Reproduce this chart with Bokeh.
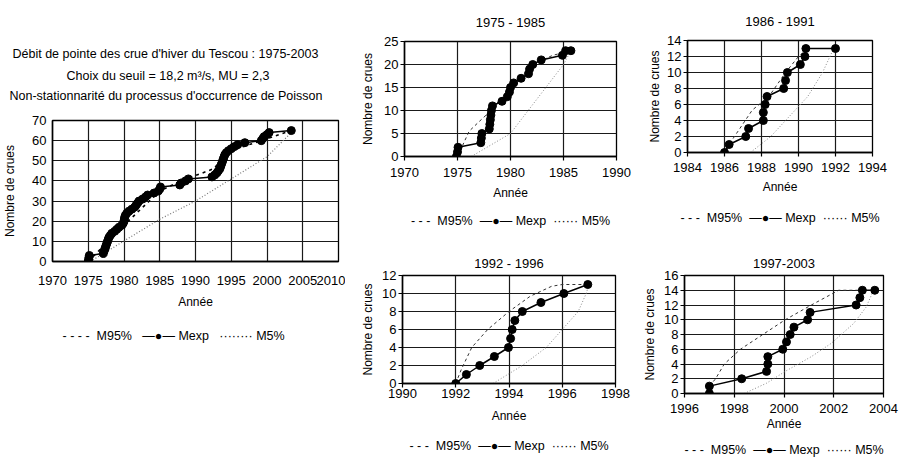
from bokeh.plotting import figure
from bokeh.models import Title, FixedTicker, Range1d, GridBox
from bokeh.embed import file_html
from bokeh.resources import INLINE

FONT = "Liberation Sans"
NB = "\u00a0"

# ---------------- DATA ----------------
# Main chart 1975-2003 (cumulative number of floods)
main_title_lines = ["Débit de pointe des crue d'hiver du Tescou : 1975-2003",
                    "Choix du seuil = 18,2 m³/s, MU = 2,3",
                    "Non-stationnarité du processus d'occurrence de Poisson"]
main_exp_years = [1975.0, 1975.05, 1975.1, 1975.15, 1977.1, 1977.2, 1977.3, 1977.4, 1977.5, 1977.6,
                  1977.7, 1977.8, 1977.9, 1978.1, 1978.3, 1978.7, 1979.0, 1979.3, 1979.7, 1979.9,
                  1980.0, 1980.05, 1980.1, 1980.2, 1980.4, 1980.7, 1981.1, 1981.5, 1981.7, 1981.9,
                  1982.1, 1982.6, 1983.0, 1983.3, 1984.2, 1984.8, 1985.0, 1985.1, 1987.8, 1988.0,
                  1988.6, 1989.0, 1992.3, 1992.7, 1993.0, 1993.2, 1993.4, 1993.5, 1993.6, 1993.7,
                  1993.8, 1993.9, 1994.0, 1994.1, 1994.3, 1994.6, 1995.0, 1995.4, 1995.9, 1996.9,
                  1999.2, 1999.4, 1999.6, 2000.0, 2000.3, 2003.4]
main_exp_counts = [0, 1, 2, 3, 4, 5, 6, 7, 8, 9,
                   10, 11, 12, 13, 14, 15, 16, 17, 18, 19,
                   20, 21, 22, 23, 24, 25, 26, 27, 28, 29,
                   30, 31, 32, 33, 34, 35, 36, 37, 38, 39,
                   40, 41, 42, 43, 44, 45, 46, 47, 48, 49,
                   50, 51, 52, 53, 54, 55, 56, 57, 58, 59,
                   60, 61, 62, 63, 64, 65]
main_m95_years = [1975.0, 1980.0, 1985.0, 1988.0, 1992.5, 1995.0, 2000.0, 2003.4]
main_m95_counts = [0, 18, 35, 40, 46, 55, 61, 65]
main_m5_years = [1975.3, 1985.0, 1990.0, 1995.0, 2000.0, 2003.4]
main_m5_counts = [0, 21, 30, 41, 52, 64]
main_xticks = [1970, 1975, 1980, 1985, 1990, 1995, 2000, 2005, 2010]
main_yticks = [0, 10, 20, 30, 40, 50, 60, 70]

# Panel 1975 - 1985
p2_title = "1975 - 1985"
p2_exp_years = [1974.9, 1975.0, 1975.05, 1977.2, 1977.25, 1977.3, 1978.0, 1978.05, 1978.1, 1978.15,
                1978.2, 1978.3, 1979.2, 1979.7, 1979.9, 1980.0, 1980.3, 1981.0, 1981.7, 1981.8,
                1982.1, 1982.9, 1984.9, 1985.2, 1985.7]
p2_exp_counts = [0, 1, 2, 3, 4, 5, 6, 7, 8, 9, 10, 11, 12, 13, 14, 15, 16, 17, 18, 19,
                 20, 21, 22, 23, 23]
p2_m95_years = [1975.0, 1975.6, 1976.1, 1977.0, 1977.7, 1978.5, 1980.0, 1981.0, 1982.5, 1984.0, 1985.7]
p2_m95_counts = [0, 3, 5.5, 7.5, 9, 11, 15, 17.5, 20.5, 22, 23]
p2_m5_years = [1976.3, 1978.0, 1980.0, 1982.0, 1983.5, 1985.0, 1985.7]
p2_m5_counts = [0, 2.3, 5, 11, 15.5, 20, 23]
p2_xticks = [1970, 1975, 1980, 1985, 1990]
p2_yticks = [0, 5, 10, 15, 20, 25]

# Panel 1986 - 1991
p3_title = "1986 - 1991"
p3_exp_years = [1986.0, 1986.25, 1987.15, 1987.3, 1988.1, 1988.1, 1988.2, 1988.3, 1989.2, 1989.3,
                1989.4, 1990.1, 1990.35, 1990.4, 1992.0]
p3_exp_counts = [0, 1, 2, 3, 4, 5, 6, 7, 8, 9, 10, 11, 12, 13, 13]
p3_m95_years = [1986.1, 1987.5, 1988.4, 1989.3, 1990.0, 1990.5]
p3_m95_counts = [0.5, 5.3, 7, 10, 12, 13]
p3_m5_years = [1987.4, 1988.5, 1989.5, 1990.5, 1991.3, 1991.9]
p3_m5_counts = [0, 2, 4.5, 7, 10, 13]
p3_xticks = [1984, 1986, 1988, 1990, 1992, 1994]
p3_yticks = [0, 2, 4, 6, 8, 10, 12, 14]

# Panel 1992 - 1996
p4_title = "1992 - 1996"
p4_exp_years = [1992.0, 1992.4, 1992.9, 1993.45, 1993.98, 1994.06, 1994.12, 1994.22, 1994.5,
                1995.2, 1996.06, 1996.96]
p4_exp_counts = [0, 1, 2, 3, 4, 5, 6, 7, 8, 9, 10, 11]
p4_m95_years = [1992.0, 1992.2, 1992.6, 1993.2, 1994.0, 1994.8, 1995.6, 1996.0, 1996.9]
p4_m95_counts = [0, 1.5, 4, 6, 8, 9.7, 10.8, 11, 11]
p4_m5_years = [1993.4, 1994.5, 1995.4, 1996.0, 1996.6, 1996.9, 1997.0]
p4_m5_counts = [0, 2, 4, 6, 8, 10, 11]
p4_xticks = [1990, 1992, 1994, 1996, 1998]
p4_yticks = [0, 2, 4, 6, 8, 10, 12]

# Panel 1997-2003
p5_title = "1997-2003"
p5_exp_years = [1997.0, 1997.0, 1998.3, 1999.3, 1999.35, 1999.35, 1999.95, 2000.1, 2000.25, 2000.4,
                2000.95, 2001.05, 2002.9, 2003.05, 2003.15, 2003.65]
p5_exp_counts = [0, 1, 2, 3, 4, 5, 6, 7, 8, 9, 10, 11, 12, 13, 14, 14]
p5_m95_years = [1997.0, 1997.25, 1997.6, 1998.25, 1999.15, 2000.05, 2001.1, 2002.2, 2003.2]
p5_m95_counts = [1, 2, 4, 6, 8, 10, 12, 14, 14]
p5_m5_years = [1998.4, 1999.3, 2000.05, 2001.1, 2001.9, 2002.8, 2003.3, 2003.6]
p5_m5_counts = [0, 1.4, 3, 5, 6.8, 9.5, 11.7, 14]
p5_xticks = [1996, 1998, 2000, 2002, 2004]
p5_yticks = [0, 2, 4, 6, 8, 10, 12, 14, 16]

legend_labels = ["M95%", "Mexp", "M5%"]
xlabel = "Année"
ylabel = "Nombre de crues"


def legend_text(big):
    dash = ("-" + NB) * 4 if big else ("-" + NB) * 3
    dots = "·" * 8 if big else "·" * 6
    gap = NB * 3 if big else NB * 2
    return (dash + NB + legend_labels[0] + gap + "—●—" + NB + legend_labels[1] + gap
            + dots + NB + legend_labels[2])


def make_panel(w, h, bl, br, bt, bb, xticks, yticks,
               exp_x, exp_y, m95_x, m95_y, m5_x, m5_y,
               x_tick_out, x_std, x_lab_std, y_lab_std, leg_standoff, big=False):
    p = figure(width=w, height=h, title=None,
               x_range=Range1d(xticks[0], xticks[-1]), y_range=Range1d(yticks[0], yticks[-1]),
               output_backend="svg", toolbar_location=None,
               min_border_left=bl, min_border_right=br, min_border_top=bt, min_border_bottom=bb)
    try:
        p.frame_align = False   # do not align frame edges across the grid
    except Exception:
        pass
    p.background_fill_color = "white"
    p.border_fill_color = "white"
    p.outline_line_color = "black"
    p.outline_line_width = 1.3
    p.xaxis.ticker = FixedTicker(ticks=xticks)
    p.yaxis.ticker = FixedTicker(ticks=yticks)
    p.grid.grid_line_color = "#1a1a1a"
    p.grid.grid_line_width = 1.2
    p.xaxis.axis_label = xlabel
    p.yaxis.axis_label = ylabel
    for ax in (p.xaxis[0], p.yaxis[0]):
        ax.major_label_text_font = FONT
        ax.major_label_text_font_size = "13px"
        ax.major_label_text_color = "black"
        ax.axis_label_text_font = FONT
        ax.axis_label_text_font_size = "12px"
        ax.axis_label_text_font_style = "normal"
        ax.axis_label_text_color = "black"
        ax.axis_line_color = "black"
        ax.axis_line_width = 1.5
        ax.major_tick_line_color = "black"
        ax.major_tick_line_width = 1.2
        ax.minor_tick_line_color = None
        ax.major_tick_in = 0
    p.xaxis.major_tick_out = x_tick_out
    p.xaxis.major_label_standoff = x_std
    p.xaxis.axis_label_standoff = x_lab_std
    p.yaxis.major_tick_out = 0 if big else 4
    p.yaxis.major_label_standoff = 6 if big else 2
    p.yaxis.axis_label_standoff = y_lab_std

    if big:
        p.line(m95_x, m95_y, line_color="black", line_width=1.6, line_dash="3 4")
        p.line(m5_x, m5_y, line_color="#777777", line_width=1.2, line_dash="1 2")
    else:
        p.line(m95_x, m95_y, line_color="#333333", line_width=1.0, line_dash="3 3")
        p.line(m5_x, m5_y, line_color="#888888", line_width=1.0, line_dash="1 2")
    p.line(exp_x, exp_y, line_color="black", line_width=1.5)
    p.scatter(exp_x, exp_y, size=8, fill_color="black", line_color="black")

    # key line under the axis title: M95% / Mexp / M5%
    p.add_layout(Title(text=legend_text(big), align="left" if big else "center",
                       offset=10 if big else 0, standoff=leg_standoff,
                       text_font=FONT, text_font_size="12.5px", text_font_style="normal",
                       text_color="black"), "below")
    return p


def add_title(p, text, standoff, align="center", offset=0, size="13px"):
    p.add_layout(Title(text=text, align=align, offset=offset, standoff=standoff,
                       text_font=FONT, text_font_size=size, text_font_style="normal",
                       text_color="black"), "above")


p1 = make_panel(345, 464, 52, 7, 120, 203, main_xticks, main_yticks,
                main_exp_years, main_exp_counts, main_m95_years, main_m95_counts,
                main_m5_years, main_m5_counts, 0, 14, 7, 12, 30, big=True)
# spacer between frame and the three title lines
p1.add_layout(Title(text=" ", text_font_size="1px", standoff=14), "above")
add_title(p1, main_title_lines[2], 2, align="left", offset=-43, size="12.5px")
add_title(p1, main_title_lines[1], 6, align="left", offset=14, size="12.5px")
add_title(p1, main_title_lines[0], 6, align="left", offset=-40, size="12.5px")

p2 = make_panel(295, 236, 59, 24, 41, 80, p2_xticks, p2_yticks,
                p2_exp_years, p2_exp_counts, p2_m95_years, p2_m95_counts,
                p2_m5_years, p2_m5_counts, 4, 7, 6, 6, 18)
add_title(p2, p2_title, 23)
p3 = make_panel(268, 236, 47, 36, 39, 83, p3_xticks, p3_yticks,
                p3_exp_years, p3_exp_counts, p3_m95_years, p3_m95_counts,
                p3_m5_years, p3_m5_counts, 4, 6, 5, 2, 24)
add_title(p3, p3_title, 23)
p4 = make_panel(295, 228, 57, 25, 39, 80, p4_xticks, p4_yticks,
                p4_exp_years, p4_exp_counts, p4_m95_years, p4_m95_counts,
                p4_m5_years, p4_m5_counts, 4, 1, 8, 4, 23)
add_title(p4, p4_title, 10)
p5 = make_panel(268, 228, 39, 25, 39, 70, p5_xticks, p5_yticks,
                p5_exp_years, p5_exp_counts, p5_m95_years, p5_m95_counts,
                p5_m5_years, p5_m5_counts, 4, 6, 1, 4, 15)
add_title(p5, p5_title, 16)

grid = GridBox(children=[(p1, 0, 0, 2, 1), (p2, 0, 1), (p3, 0, 2), (p4, 1, 1), (p5, 1, 2)],
               spacing=0)
open("out.html", "w").write(file_html(grid, INLINE))
